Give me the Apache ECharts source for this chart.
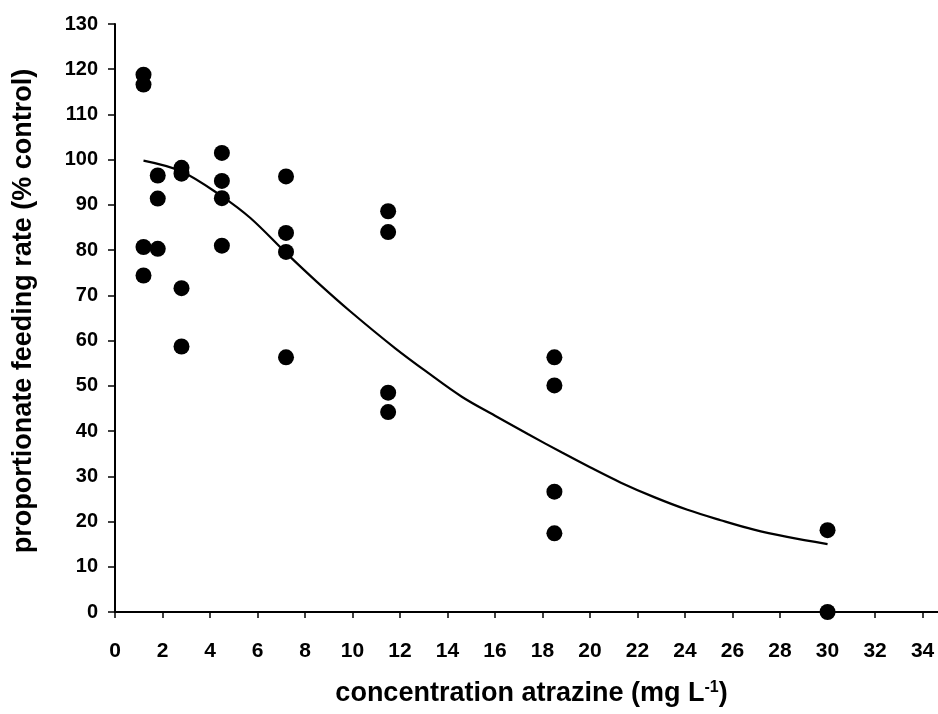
<!DOCTYPE html>
<html>
<head>
<meta charset="utf-8">
<script src="https://cdn.jsdelivr.net/npm/echarts@6/dist/echarts.min.js"></script>
<style>
  html, body { margin: 0; padding: 0; background: #fff; }
  #chart { width: 938px; height: 714px; }
</style>
</head>
<body>
<div id="chart"></div>
<script>
// Observed data points: concentration atrazine (mg/L) and proportionate feeding rate (% control)
const concentration = [1.2, 1.2, 1.2, 1.2, 1.8, 1.8, 1.8, 2.8, 2.8, 2.8, 2.8, 4.5, 4.5, 4.5, 4.5,
  7.2, 7.2, 7.2, 7.2, 11.5, 11.5, 11.5, 11.5, 18.5, 18.5, 18.5, 18.5, 30, 30];
const feedingRate = [118.8, 116.6, 80.7, 74.4, 96.5, 91.4, 80.3, 98.2, 96.9, 71.6, 58.7, 101.5, 95.3, 91.5, 81.0,
  96.3, 83.8, 79.6, 56.3, 88.6, 84.0, 48.5, 44.2, 56.3, 50.1, 26.6, 17.4, 18.1, 0];

// Fitted curve
const curveX = [1.2, 2.8, 4.5, 5.7, 7.2, 8.5, 9.9, 11.8, 13.2, 14.6, 16.0, 17.4, 18.8, 20.0, 21.3, 22.7, 24.1, 25.5, 26.9, 28.3, 30.0];
const curveY = [99.8, 97.4, 91.9, 87.1, 79.4, 73.0, 66.5, 58.3, 52.8, 47.6, 43.4, 39.3, 35.3, 32.0, 28.6, 25.4, 22.6, 20.3, 18.2, 16.6, 15.0];

// Tick labels
const xTicks = [0, 2, 4, 6, 8, 10, 12, 14, 16, 18, 20, 22, 24, 26, 28, 30, 32, 34];
const yTicks = [0, 10, 20, 30, 40, 50, 60, 70, 80, 90, 100, 110, 120, 130];

const xTitle = 'concentration atrazine (mg L{sup|-1})';
const yTitle = 'proportionate feeding rate (% control)';

const chart = echarts.init(document.getElementById('chart'), null, { renderer: 'canvas' });
const font = '"Liberation Sans", Arial, sans-serif';

chart.setOption({
  backgroundColor: '#ffffff',
  animation: false,
  grid: { left: 115, right: 0, top: 24, bottom: 102, containLabel: false },
  xAxis: {
    type: 'value',
    min: 0,
    max: 34.65,
    name: xTitle,
    nameLocation: 'middle',
    nameGap: 68,
    nameTextStyle: {
      fontFamily: font, fontSize: 27, fontWeight: 'bold', color: '#000',
      padding: [0, 0, 0, 10],
      rich: {
        sup: { fontFamily: font, fontSize: 16, fontWeight: 'bold', color: '#000', verticalAlign: 'top', padding: [0, 0, 12, 0] }
      }
    },
    axisLine: { show: true, onZero: false, lineStyle: { color: '#000', width: 2 } },
    axisTick: { show: true, inside: false, length: 6, customValues: xTicks, lineStyle: { color: '#000', width: 1.5 } },
    axisLabel: { show: true, customValues: xTicks, margin: 29, fontFamily: font, fontSize: 21, fontWeight: 'bold', color: '#000' },
    splitLine: { show: false }
  },
  yAxis: {
    type: 'value',
    min: 0,
    max: 130,
    interval: 10,
    name: yTitle,
    nameLocation: 'middle',
    nameRotate: 90,
    nameGap: 78,
    nameTextStyle: { fontFamily: font, fontSize: 27, fontWeight: 'bold', color: '#000', padding: [0, 0, 0, 14] },
    axisLine: { show: true, onZero: false, lineStyle: { color: '#000', width: 2 } },
    axisTick: { show: true, inside: false, length: 7, customValues: yTicks, lineStyle: { color: '#000', width: 1.5 } },
    axisLabel: { show: true, customValues: yTicks, margin: 17, fontFamily: font, fontSize: 20, fontWeight: 'bold', color: '#000' },
    splitLine: { show: false }
  },
  series: [
    {
      type: 'line',
      data: curveX.map((x, i) => [x, curveY[i]]),
      smooth: 0.35,
      showSymbol: false,
      symbol: 'none',
      lineStyle: { color: '#000', width: 2.2 },
      z: 2
    },
    {
      type: 'scatter',
      data: concentration.map((x, i) => [x, feedingRate[i]]),
      symbol: 'circle',
      symbolSize: 16,
      itemStyle: { color: '#000', opacity: 1 },
      clip: false,
      z: 3
    }
  ]
});
</script>
</body>
</html>
